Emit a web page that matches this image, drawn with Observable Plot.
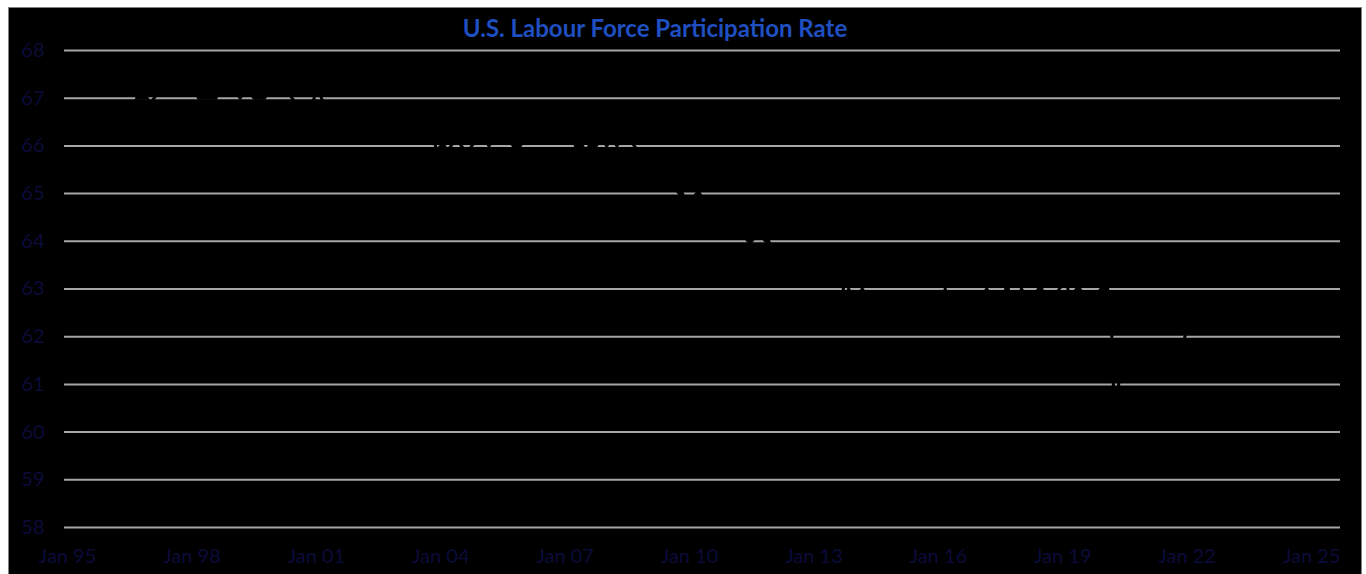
<!DOCTYPE html>
<html>
<head>
<meta charset="utf-8">
<script src="https://cdn.jsdelivr.net/npm/d3@7"></script>
<script src="https://cdn.jsdelivr.net/npm/@observablehq/plot@0.6"></script>
<style>
html, body { margin: 0; padding: 0; background: #fff; width: 1366px; height: 574px; overflow: hidden; }
#frame { position: absolute; left: 8px; top: 7px; width: 1354px; height: 580px; background: #000; border: 1px solid #808080; box-sizing: border-box; }
#chart { position: absolute; left: 0; top: 0; }
#title { position: absolute; left: 355px; width: 600px; top: 16px; text-align: center; font: bold 24px Lato, sans-serif; line-height: 24px; color: #1f4fc0; }
</style>
</head>
<body>
<div id="frame"><div id="chart"></div></div>
<div id="title">U.S. Labour Force Participation Rate</div>
<script>
// Monthly U.S. labour force participation rate (%), one array per year, Jan..Dec
const startYear = 1995;
const rates = [
  [66.8, 66.8, 66.9, 66.9, 66.6, 66.6, 66.6, 66.6, 66.6, 66.6, 66.6, 66.5], // 1995
  [66.4, 66.6, 66.6, 66.7, 66.7, 66.7, 66.9, 66.7, 67.0, 67.0, 67.0, 67.0], // 1996
  [66.9, 67.0, 67.1, 67.1, 67.1, 67.1, 67.2, 67.2, 67.1, 67.1, 67.2, 67.2], // 1997
  [67.2, 67.1, 67.0, 67.0, 67.0, 67.0, 67.0, 67.0, 67.2, 67.2, 67.1, 67.2], // 1998
  [67.2, 67.1, 67.0, 67.1, 67.1, 67.1, 67.0, 67.0, 67.0, 67.0, 67.1, 67.1], // 1999
  [67.3, 67.3, 67.3, 67.3, 67.1, 67.0, 66.9, 66.9, 66.9, 66.8, 66.9, 66.9], // 2000
  [67.2, 67.1, 66.9, 66.9, 66.7, 66.7, 66.8, 66.5, 66.8, 66.7, 66.7, 66.7], // 2001
  [66.5, 66.8, 66.6, 66.7, 66.7, 66.6, 66.5, 66.6, 66.7, 66.6, 66.4, 66.3], // 2002
  [66.4, 66.4, 66.3, 66.4, 66.4, 66.5, 66.2, 66.1, 66.1, 66.1, 66.1, 65.9], // 2003
  [66.0, 66.0, 65.9, 66.0, 66.1, 66.1, 66.0, 65.9, 65.9, 66.0, 66.1, 66.1], // 2004
  [66.1, 66.1, 66.0, 66.1, 66.1, 66.1, 66.1, 66.2, 66.1, 66.0, 66.0, 66.0], // 2005
  [66.1, 66.1, 66.2, 66.1, 66.1, 66.2, 66.1, 66.2, 66.1, 66.2, 66.3, 66.4], // 2006
  [66.4, 66.3, 66.2, 66.0, 66.0, 66.0, 65.9, 66.0, 66.0, 66.0, 66.1, 66.1], // 2007
  [66.0, 66.1, 66.1, 66.0, 66.1, 66.1, 66.1, 66.1, 66.0, 65.9, 65.8, 65.8], // 2008
  [65.7, 65.8, 65.6, 65.7, 65.7, 65.7, 65.5, 65.4, 65.1, 65.0, 65.0, 64.6], // 2009
  [64.8, 64.9, 65.0, 65.0, 64.8, 64.6, 64.6, 64.7, 64.6, 64.4, 64.6, 64.3], // 2010
  [64.2, 64.1, 64.2, 64.2, 64.1, 64.0, 64.0, 64.1, 64.2, 64.1, 64.0, 64.0], // 2011
  [63.7, 63.8, 63.8, 63.7, 63.7, 63.8, 63.7, 63.5, 63.6, 63.7, 63.6, 63.6], // 2012
  [63.6, 63.4, 63.3, 63.4, 63.4, 63.4, 63.4, 63.3, 63.2, 62.8, 63.0, 62.9], // 2013
  [62.9, 62.9, 63.0, 62.9, 62.9, 62.8, 62.9, 62.9, 62.8, 62.9, 62.9, 62.7], // 2014
  [62.9, 62.8, 62.7, 62.7, 62.8, 62.6, 62.6, 62.6, 62.4, 62.5, 62.5, 62.7], // 2015
  [62.7, 62.8, 63.0, 62.8, 62.7, 62.7, 62.8, 62.8, 62.9, 62.8, 62.7, 62.7], // 2016
  [62.9, 62.9, 63.0, 62.9, 62.7, 62.8, 62.9, 62.9, 63.1, 62.7, 62.8, 62.8], // 2017
  [63.0, 62.9, 62.9, 62.8, 62.9, 63.0, 63.0, 62.8, 62.7, 62.9, 62.9, 63.0], // 2018
  [63.1, 63.2, 62.8, 62.9, 63.0, 63.0, 62.9, 62.9, 62.8, 62.9, 62.9, 63.0], // 2019
  [63.0, 63.0, 62.5, 60.2, 60.9, 61.4, 61.5, 61.7, 61.4, 61.7, 61.5, 61.5], // 2020
  [61.4, 61.5, 61.6, 61.7, 61.6, 61.6, 61.7, 61.7, 61.7, 61.7, 61.8, 61.9], // 2021
  [62.2, 62.3, 62.4, 62.3, 62.3, 62.2, 62.2, 62.3, 62.3, 62.2, 62.2, 62.3], // 2022
  [62.4, 62.5, 62.6, 62.6, 62.6, 62.6, 62.6, 62.8, 62.8, 62.7, 62.8, 62.5]  // 2023
];
const yTicks = [58, 59, 60, 61, 62, 63, 64, 65, 66, 67, 68];
const xTickYears = [1995, 1998, 2001, 2004, 2007, 2010, 2013, 2016, 2019, 2022, 2025];
const xTickLabels = ["Jan 95", "Jan 98", "Jan 01", "Jan 04", "Jan 07", "Jan 10", "Jan 13", "Jan 16", "Jan 19", "Jan 22", "Jan 25"];

const rows = [];
rates.forEach((yr, i) => yr.forEach((v, m) => rows.push({date: new Date(Date.UTC(startYear + i, m, 1)), rate: v})));
const xTicks = xTickYears.map(y => new Date(Date.UTC(y, 0, 1)));
const labelOf = d => xTickLabels[xTickYears.indexOf(d.getUTCFullYear())];

const chart = Plot.plot({
  width: 1352,
  height: 566,
  marginLeft: 55,
  marginRight: 21,
  marginTop: 42,
  marginBottom: 47,
  style: {background: "#000", color: "#0b0b3a", fontFamily: "Lato, sans-serif", fontSize: "20px"},
  x: {type: "utc", domain: [new Date(Date.UTC(1994, 11, 5)), new Date(Date.UTC(2025, 8, 12))]},
  y: {domain: [58, 68]},
  marks: [
    Plot.gridY(yTicks, {stroke: "#a6a6a6", strokeOpacity: 1, strokeWidth: 2}),
    Plot.axisY(yTicks, {tickSize: 0, tickPadding: 20, label: null, fontSize: 20}),
    Plot.axisX(xTicks, {tickSize: 0, tickPadding: 21, label: null, fontSize: 20, tickFormat: labelOf}),
    Plot.lineY(rows, {x: "date", y: "rate", stroke: "#000", strokeWidth: 3})
  ]
});
document.getElementById("chart").appendChild(chart);
</script>
</body>
</html>
